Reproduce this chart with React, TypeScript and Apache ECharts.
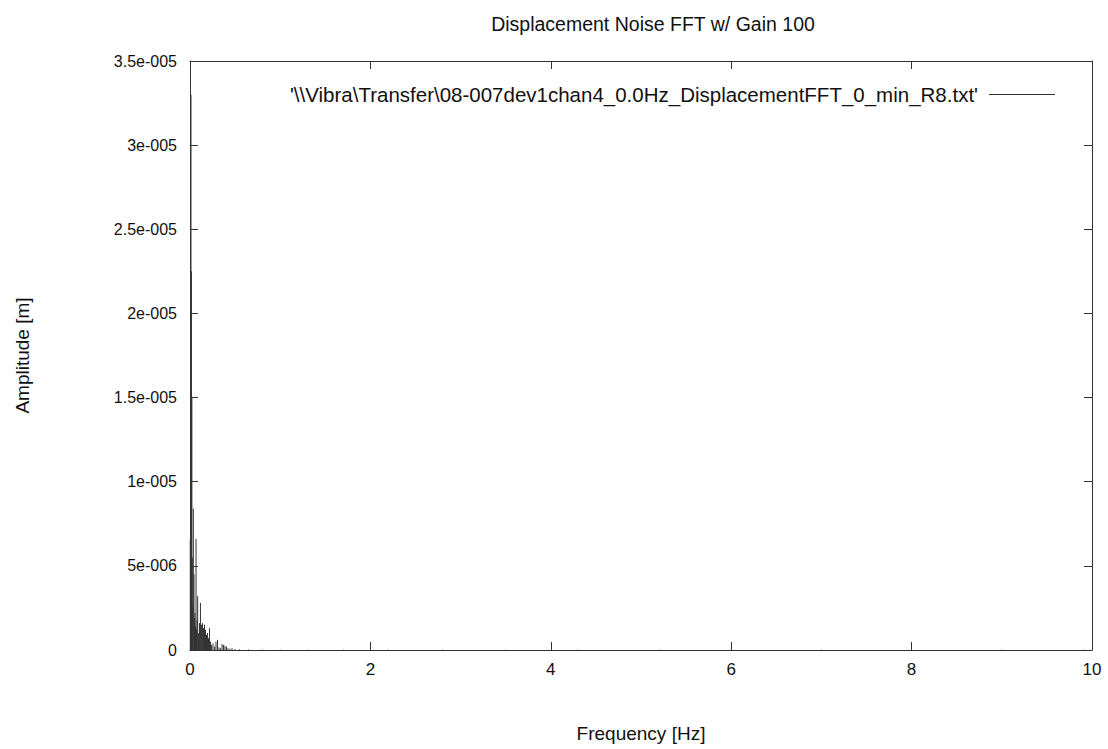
import React, { useEffect, useRef } from "react";
import * as echarts from "echarts";

const titleText = "Displacement Noise FFT w/ Gain 100";
const seriesName = "'\\\\Vibra\\Transfer\\08-007dev1chan4_0.0Hz_DisplacementFFT_0_min_R8.txt'";
const xTickLabels = ["0", "2", "4", "6", "8", "10"];
const yTickLabels = ["0", "5e-006", "1e-005", "1.5e-005", "2e-005", "2.5e-005", "3e-005", "3.5e-005"];

const freqs = [
  0.003, 0.011, 0.016, 0.021, 0.026, 0.031, 0.037, 0.044, 0.05, 0.055, 0.061, 0.067, 0.072, 0.078, 0.085, 0.094,
  0.105, 0.116, 0.127, 0.139, 0.15, 0.161, 0.172, 0.183, 0.194, 0.205, 0.216, 0.227, 0.238, 0.255,
  0.272, 0.288, 0.305, 0.322, 0.338, 0.355, 0.371, 0.388, 0.405, 0.421, 0.443, 0.466, 0.499,
  0.55, 0.65, 0.8, 1.0, 1.3, 1.7, 2.2, 2.8, 3.5, 4.3, 5.2, 6.0, 7.0, 8.0, 9.0, 9.9,
];
const amps = [
  6.6e-6, 3.3e-5, 2.25e-5, 1.5e-5, 5.5e-6, 2.6e-6, 8.4e-6, 4.5e-6, 1.9e-6, 2.2e-6, 1.4e-6, 6.6e-6, 1.2e-6, 1.8e-6, 3.2e-6, 1.0e-6,
  1.6e-6, 2.8e-6, 1.5e-6, 1.6e-6, 1.3e-6, 1.5e-6, 1.2e-6, 0.9e-6, 1.0e-6, 0.7e-6, 1.3e-6, 0.5e-6, 0.3e-6, 0.4e-6,
  0.2e-6, 0.5e-6, 0.6e-6, 0.15e-6, 0.1e-6, 0.35e-6, 0.3e-6, 0.25e-6, 0.2e-6, 0.1e-6, 0.08e-6, 0.1e-6, 0.05e-6,
  0.04e-6, 0.03e-6, 0.03e-6, 0.02e-6, 0.02e-6, 0.02e-6, 0.02e-6, 0.02e-6, 0.02e-6, 0.02e-6, 0.02e-6, 0.02e-6, 0.02e-6, 0.02e-6, 0.02e-6, 0.02e-6,
];

export default function App() {
  const ref = useRef<HTMLDivElement>(null);
  useEffect(() => {
    if (!ref.current) return;
    const chart = echarts.init(ref.current, null, { renderer: "svg" });
    const data = freqs.map((f, i) => [f, amps[i]]);
    const font = "'Liberation Sans', Arial, sans-serif";
    const axisLine = { show: true, onZero: false, lineStyle: { color: "#333", width: 1 } };
    const axisTick = { show: true, inside: true, length: 8, lineStyle: { color: "#333" } };
    chart.setOption({
      animation: false,
      backgroundColor: "#fff",
      textStyle: { fontFamily: font },
      title: {
        text: titleText,
        left: 648,
        top: 9,
        textAlign: "center",
        textStyle: { fontSize: 19.5, fontWeight: "normal", color: "#111", fontFamily: font },
      },
      legend: {
        data: [{ name: seriesName, icon: "rect" }],
        right: 48,
        top: 79,
        align: "right",
        itemWidth: 66,
        itemHeight: 1,
        itemGap: 10,
        textStyle: { fontSize: 20.5, color: "#111", fontFamily: font, padding: [0, 6, 0, 0] },
      },
      grid: { left: 190, right: 16, top: 61, bottom: 99 },
      xAxis: [
        {
          type: "value",
          min: 0,
          max: 10,
          interval: 2,
          name: "Frequency [Hz]",
          nameLocation: "middle",
          nameGap: 74,
          nameTextStyle: { fontSize: 19, color: "#111" },
          axisLine,
          axisTick,
          axisLabel: {
            fontSize: 17,
            color: "#111",
            margin: 11,
            formatter: (v: number) => xTickLabels[Math.round(v / 2)] ?? "",
          },
          splitLine: { show: false },
        },
        {
          type: "value",
          position: "top",
          min: 0,
          max: 10,
          interval: 2,
          axisLine,
          axisTick,
          axisLabel: { show: false },
          splitLine: { show: false },
        },
      ],
      yAxis: [
        {
          type: "value",
          min: 0,
          max: 3.5e-5,
          interval: 5e-6,
          name: "Amplitude [m]",
          nameLocation: "middle",
          nameGap: 158,
          nameRotate: 90,
          nameTextStyle: { fontSize: 19, color: "#111" },
          axisLine,
          axisTick,
          axisLabel: {
            fontSize: 16,
            color: "#111",
            margin: 13,
            formatter: (v: number) => yTickLabels[Math.round(v / 5e-6)] ?? "",
          },
          splitLine: { show: false },
        },
        {
          type: "value",
          position: "right",
          min: 0,
          max: 3.5e-5,
          interval: 5e-6,
          axisLine,
          axisTick,
          axisLabel: { show: false },
          splitLine: { show: false },
        },
      ],
      series: [
        {
          name: seriesName,
          type: "custom",
          xAxisIndex: 0,
          yAxisIndex: 0,
          itemStyle: { color: "#333" },
          encode: { x: 0, y: 1 },
          data,
          renderItem: (params: any, api: any) => {
            const p0 = api.coord([api.value(0), 0]);
            const p1 = api.coord([api.value(0), api.value(1)]);
            return {
              type: "line",
              shape: { x1: p0[0], y1: p0[1], x2: p1[0], y2: p1[1] },
              style: { stroke: "#333", lineWidth: 1 },
            };
          },
        },
      ],
    });
    return () => chart.dispose();
  }, []);
  return (
    <div
      ref={ref}
      style={{ position: "fixed", left: 0, top: 0, width: 1108, height: 749, background: "#fff" }}
    />
  );
}
